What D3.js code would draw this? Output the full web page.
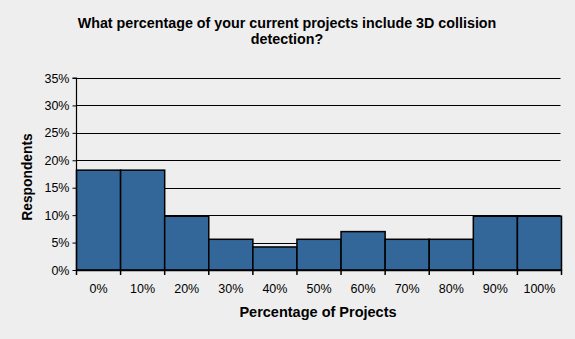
<!DOCTYPE html>
<html><head><meta charset="utf-8">
<script src="https://cdn.jsdelivr.net/npm/d3@7"></script>
<style>html,body{margin:0;padding:0;background:#eeeeee;}svg{display:block;}</style>
</head><body>
<svg id="chart" width="575" height="339"></svg>
<script>
const categories = ["0%","10%","20%","30%","40%","50%","60%","70%","80%","90%","100%"];
const values = [18.2,18.2,9.8,5.6,4.2,5.6,7.0,5.6,5.6,9.8,9.8];
const yTicks = [0,5,10,15,20,25,30,35];
const titleLines = ["What percentage of your current projects include 3D collision","detection?"];
const xTitle = "Percentage of Projects";
const yTitle = "Respondents";

const svg = d3.select("#chart");
const font = "'Liberation Sans', Arial, sans-serif";
const m = {left:76.5, right:561.5, top:78, bottom:270};
const x = d3.scaleBand().domain(categories).range([m.left, m.right]).padding(0);
const y = d3.scaleLinear().domain([0,35]).range([m.bottom, m.top]);

svg.append("rect").attr("width",575).attr("height",339).attr("fill","#eeeeee");

// gridlines
svg.append("g").selectAll("line").data(yTicks.filter(d=>d>0)).join("line")
  .attr("x1",m.left).attr("x2",m.right-1)
  .attr("y1",d=>Math.round(y(d))+0.5).attr("y2",d=>Math.round(y(d))+0.5)
  .attr("stroke","#000").attr("stroke-width",1);

// bars
svg.append("g").selectAll("rect").data(values).join("rect")
  .attr("x",(d,i)=>x(categories[i]))
  .attr("y",d=>y(d))
  .attr("width",x.bandwidth())
  .attr("height",d=>m.bottom-y(d))
  .attr("fill","#336699").attr("stroke","#000").attr("stroke-width",1.5);

// y axis
const yAxis = d3.axisLeft(y).tickValues(yTicks).tickFormat(d=>d+"%").tickSize(4).tickPadding(3);
const gy = svg.append("g").attr("transform",`translate(${m.left},0)`).call(yAxis);
gy.select(".domain").attr("stroke","#000").attr("d",`M-4,${m.top}H0V${m.bottom}`).attr("stroke-width",1.2);
gy.selectAll(".tick line").attr("stroke","#000");
gy.selectAll("text").attr("font-family",font).attr("font-size","12.5px").attr("fill","#000");

// x axis
const xAxis = d3.axisBottom(x).tickSize(0).tickPadding(14);
const gx = svg.append("g").attr("transform",`translate(0,${m.bottom})`).call(xAxis);
gx.select(".domain").attr("stroke","#000").attr("stroke-width",1.5).attr("d",`M${m.left},0.5H${m.right}`);
gx.selectAll("text").attr("font-family",font).attr("font-size","12.5px").attr("fill","#000");
// boundary ticks
const bounds = categories.map(c=>x(c)).concat([m.right]);
svg.append("g").selectAll("line").data(bounds).join("line")
  .attr("x1",d=>d).attr("x2",d=>d).attr("y1",m.bottom).attr("y2",m.bottom+5)
  .attr("stroke","#000").attr("stroke-width",1.5);

// titles
svg.append("text").attr("x",287).attr("y",0).attr("text-anchor","middle")
  .attr("font-family",font).attr("font-size","14.3px").attr("font-weight","bold")
  .selectAll("tspan").data(titleLines).join("tspan")
  .attr("x",287).attr("y",(d,i)=>27.5+i*16.7).text(d=>d);

svg.append("text").attr("x",318).attr("y",317).attr("text-anchor","middle")
  .attr("font-family",font).attr("font-size","14.5px").attr("font-weight","bold").text(xTitle);

svg.append("text").attr("transform","translate(32,177) rotate(-90)").attr("text-anchor","middle")
  .attr("font-family",font).attr("font-size","13.8px").attr("font-weight","bold").text(yTitle);
</script>
</body></html>
